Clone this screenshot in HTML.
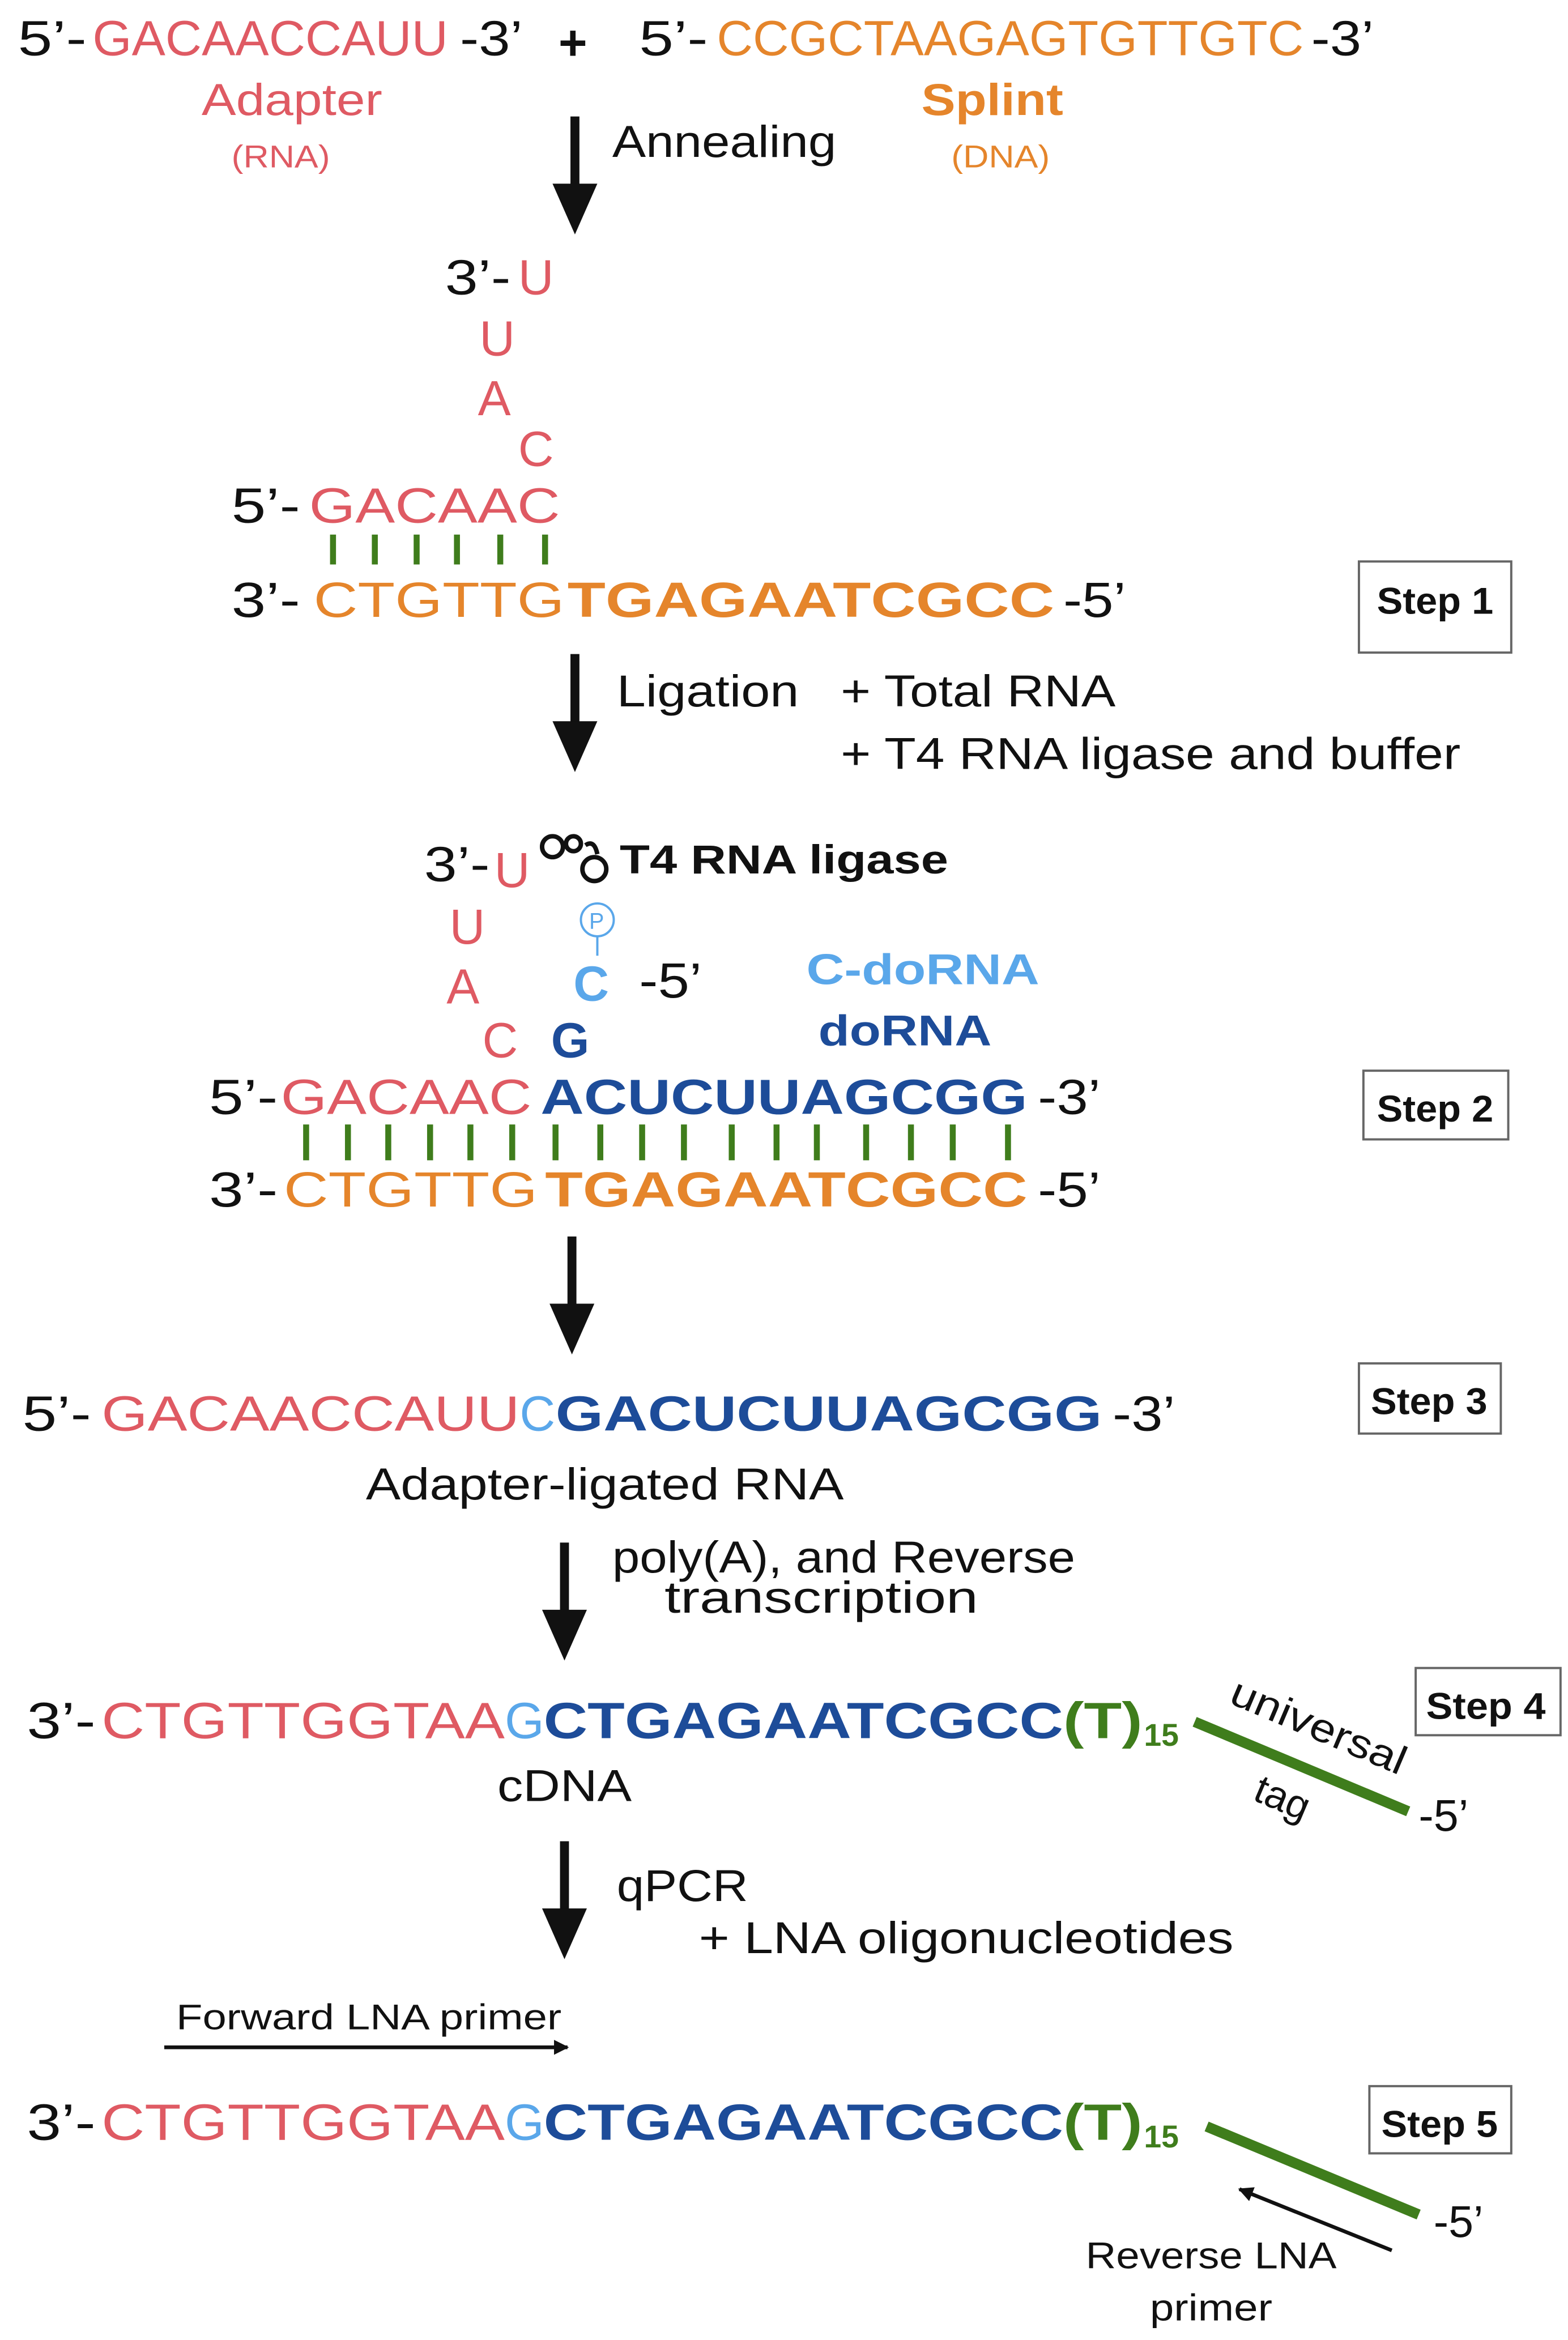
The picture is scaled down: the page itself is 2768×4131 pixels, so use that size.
<!DOCTYPE html>
<html><head><meta charset="utf-8"><style>
html,body{margin:0;padding:0;background:#fff;}
svg{display:block;}
text{font-family:"Liberation Sans",sans-serif;}
.k{fill:#111;}
.r{fill:#df5a63;}
.o{fill:#e5852b;}
.lb{fill:#5aa7ea;}
.db{fill:#1d4c99;}
.g{fill:#3f7d1c;}
.b{font-weight:bold;}
</style></head><body>
<svg width="2768" height="4131" viewBox="0 0 1050 1567" preserveAspectRatio="none" xmlns="http://www.w3.org/2000/svg">
<defs>
<marker id="ah" markerWidth="10" markerHeight="10" refX="9" refY="5" orient="auto" markerUnits="userSpaceOnUse"><path d="M0,0 L10,5 L0,10 z" fill="#111"/></marker>
</defs>
<g font-size="33">
<text x="12" y="37" class="k" textLength="46" lengthAdjust="spacingAndGlyphs">5’-</text>
<text x="62" y="37" class="r" textLength="238" lengthAdjust="spacingAndGlyphs">GACAACCAUU</text>
<text x="308" y="37" class="k" textLength="42" lengthAdjust="spacingAndGlyphs">-3’</text>
<text x="374" y="40" class="k b">+</text>
<text x="428" y="37" class="k" textLength="46" lengthAdjust="spacingAndGlyphs">5’-</text>
<text x="480" y="37" class="o" textLength="393" lengthAdjust="spacingAndGlyphs">CCGCTAAGAGTGTTGTC</text>
<text x="878" y="37" class="k" textLength="42" lengthAdjust="spacingAndGlyphs">-3’</text>
</g>
<text x="135" y="77" font-size="30" class="r" textLength="121" lengthAdjust="spacingAndGlyphs">Adapter</text>
<text x="155" y="112" font-size="21" class="r" textLength="66" lengthAdjust="spacingAndGlyphs">(RNA)</text>
<text x="617" y="77" font-size="30" class="o b" textLength="95" lengthAdjust="spacingAndGlyphs">Splint</text>
<text x="637" y="112" font-size="21" class="o" textLength="66" lengthAdjust="spacingAndGlyphs">(DNA)</text>

<g stroke="#111" stroke-width="6">
<line x1="385" y1="78" x2="385" y2="125"/>
<line x1="385" y1="438" x2="385" y2="485"/>
<line x1="383" y1="828" x2="383" y2="875"/>
<line x1="378" y1="1033" x2="378" y2="1080"/>
<line x1="378" y1="1233" x2="378" y2="1280"/>
</g>
<g fill="#111">
<path d="M370,123 L400,123 L385,157 z"/>
<path d="M370,483 L400,483 L385,517 z"/>
<path d="M368,873 L398,873 L383,907 z"/>
<path d="M363,1078 L393,1078 L378,1112 z"/>
<path d="M363,1278 L393,1278 L378,1312 z"/>
</g>
<text x="410" y="105" font-size="30" class="k" textLength="150" lengthAdjust="spacingAndGlyphs">Annealing</text>

<g font-size="33">
<text x="298" y="197" class="k" textLength="44" lengthAdjust="spacingAndGlyphs">3’-</text>
<text x="347" y="197" class="r">U</text>
<text x="321" y="238" class="r">U</text>
<text x="320" y="278" class="r">A</text>
<text x="347" y="312" class="r">C</text>
<text x="155" y="350" class="k" textLength="46" lengthAdjust="spacingAndGlyphs">5’-</text>
<text x="207" y="350" class="r" textLength="168" lengthAdjust="spacingAndGlyphs">GACAAC</text>
<text x="155" y="413" class="k" textLength="46" lengthAdjust="spacingAndGlyphs">3’-</text>
<text x="210" y="413" class="o" textLength="168" lengthAdjust="spacingAndGlyphs">CTGTTG</text>
<text x="380" y="413" class="o b" textLength="326" lengthAdjust="spacingAndGlyphs">TGAGAATCGCC</text>
<text x="712" y="413" class="k" textLength="42" lengthAdjust="spacingAndGlyphs">-5’</text>
</g>
<g stroke="#3f7d1c" stroke-width="4">
<line x1="223" y1="358" x2="223" y2="378"/><line x1="251" y1="358" x2="251" y2="378"/>
<line x1="279" y1="358" x2="279" y2="378"/><line x1="306" y1="358" x2="306" y2="378"/>
<line x1="335" y1="358" x2="335" y2="378"/><line x1="365" y1="358" x2="365" y2="378"/>
</g>
<rect x="910" y="376" width="102" height="61" fill="none" stroke="#666" stroke-width="1.5"/>
<text x="922" y="411" font-size="25" class="k b" textLength="78" lengthAdjust="spacingAndGlyphs">Step 1</text>

<g font-size="30" class="k">
<text x="413" y="473" textLength="122" lengthAdjust="spacingAndGlyphs">Ligation</text>
<text x="563" y="473" textLength="184" lengthAdjust="spacingAndGlyphs">+ Total RNA</text>
<text x="563" y="515" textLength="415" lengthAdjust="spacingAndGlyphs">+ T4 RNA ligase and buffer</text>
</g>

<g font-size="33">
<text x="284" y="590" class="k" textLength="44" lengthAdjust="spacingAndGlyphs">3’-</text>
<text x="331" y="594" class="r">U</text>
<text x="301" y="632" class="r">U</text>
<text x="299" y="672" class="r">A</text>
<text x="323" y="708" class="r">C</text>
<text x="384" y="670" class="lb b">C</text>
<text x="428" y="668" class="k" textLength="42" lengthAdjust="spacingAndGlyphs">-5’</text>
<text x="369" y="708" class="db b">G</text>
<text x="140" y="746" class="k" textLength="46" lengthAdjust="spacingAndGlyphs">5’-</text>
<text x="188" y="746" class="r" textLength="168" lengthAdjust="spacingAndGlyphs">GACAAC</text>
<text x="362" y="746" class="db b" textLength="326" lengthAdjust="spacingAndGlyphs">ACUCUUAGCGG</text>
<text x="695" y="746" class="k" textLength="42" lengthAdjust="spacingAndGlyphs">-3’</text>
<text x="140" y="808" class="k" textLength="46" lengthAdjust="spacingAndGlyphs">3’-</text>
<text x="190" y="808" class="o" textLength="170" lengthAdjust="spacingAndGlyphs">CTGTTG</text>
<text x="365" y="808" class="o b" textLength="323" lengthAdjust="spacingAndGlyphs">TGAGAATCGCC</text>
<text x="695" y="808" class="k" textLength="42" lengthAdjust="spacingAndGlyphs">-5’</text>
</g>
<g fill="none" stroke="#111" stroke-width="3">
<circle cx="370" cy="567" r="7"/>
<circle cx="384" cy="565" r="5"/>
<circle cx="398" cy="582" r="8"/>
<path d="M392,566 q6,-4 8,6"/>
</g>
<text x="415" y="585" font-size="27" class="k b" textLength="220" lengthAdjust="spacingAndGlyphs">T4 RNA ligase</text>
<circle cx="400" cy="616" r="11" fill="#fff" stroke="#5aa7ea" stroke-width="1.5"/>
<text x="394.5" y="622" font-size="15" class="lb">P</text>
<line x1="400" y1="627" x2="400" y2="640" stroke="#5aa7ea" stroke-width="1.5"/>
<text x="540" y="659" font-size="29" class="lb b" textLength="156" lengthAdjust="spacingAndGlyphs">C-doRNA</text>
<text x="548" y="700" font-size="29" class="db b" textLength="116" lengthAdjust="spacingAndGlyphs">doRNA</text>
<g stroke="#3f7d1c" stroke-width="4">
<line x1="205" y1="753" x2="205" y2="777"/><line x1="233" y1="753" x2="233" y2="777"/>
<line x1="260" y1="753" x2="260" y2="777"/><line x1="288" y1="753" x2="288" y2="777"/>
<line x1="315" y1="753" x2="315" y2="777"/><line x1="343" y1="753" x2="343" y2="777"/>
<line x1="372" y1="753" x2="372" y2="777"/><line x1="402" y1="753" x2="402" y2="777"/>
<line x1="430" y1="753" x2="430" y2="777"/><line x1="458" y1="753" x2="458" y2="777"/>
<line x1="490" y1="753" x2="490" y2="777"/><line x1="520" y1="753" x2="520" y2="777"/>
<line x1="547" y1="753" x2="547" y2="777"/><line x1="580" y1="753" x2="580" y2="777"/>
<line x1="610" y1="753" x2="610" y2="777"/><line x1="638" y1="753" x2="638" y2="777"/>
<line x1="675" y1="753" x2="675" y2="777"/>
</g>
<rect x="913" y="717" width="97" height="46" fill="none" stroke="#666" stroke-width="1.5"/>
<text x="922" y="751" font-size="25" class="k b" textLength="78" lengthAdjust="spacingAndGlyphs">Step 2</text>

<g font-size="33">
<text x="15" y="958" class="k" textLength="46" lengthAdjust="spacingAndGlyphs">5’-</text>
<text x="68" y="958" class="r" textLength="280" lengthAdjust="spacingAndGlyphs">GACAACCAUU</text>
<text x="348" y="958" class="lb">C</text>
<text x="372" y="958" class="db b" textLength="366" lengthAdjust="spacingAndGlyphs">GACUCUUAGCGG</text>
<text x="745" y="958" class="k" textLength="42" lengthAdjust="spacingAndGlyphs">-3’</text>
</g>
<rect x="910" y="913" width="95" height="47" fill="none" stroke="#666" stroke-width="1.5"/>
<text x="918" y="947" font-size="25" class="k b" textLength="78" lengthAdjust="spacingAndGlyphs">Step 3</text>
<text x="245" y="1004" font-size="30" class="k" textLength="320" lengthAdjust="spacingAndGlyphs">Adapter-ligated RNA</text>
<text x="410" y="1053" font-size="30" class="k" textLength="310" lengthAdjust="spacingAndGlyphs">poly(A), and Reverse</text>
<text x="445" y="1080" font-size="30" class="k" textLength="210" lengthAdjust="spacingAndGlyphs">transcription</text>

<g font-size="34">
<text x="18" y="1164" class="k" textLength="46" lengthAdjust="spacingAndGlyphs">3’-</text>
<text x="68" y="1164" class="r" textLength="270" lengthAdjust="spacingAndGlyphs">CTGTTGGTAA</text>
<text x="338" y="1164" class="lb">G</text>
<text x="364" y="1164" class="db b" textLength="348" lengthAdjust="spacingAndGlyphs">CTGAGAATCGCC</text>
<text x="712" y="1164" class="g b" textLength="53" lengthAdjust="spacingAndGlyphs">(T)</text>
<text x="766" y="1169" font-size="21" class="g b">15</text>
</g>
<line x1="800" y1="1153" x2="943" y2="1213" stroke="#3f7d1c" stroke-width="7"/>
<text transform="translate(822,1140) rotate(23)" font-size="27" class="k" textLength="125" lengthAdjust="spacingAndGlyphs">universal</text>
<text transform="translate(838,1205) rotate(23)" font-size="27" class="k">tag</text>
<text x="950" y="1226" font-size="30" class="k">-5’</text>
<rect x="948" y="1117" width="97" height="45" fill="none" stroke="#666" stroke-width="1.5"/>
<text x="955" y="1151" font-size="25" class="k b" textLength="80" lengthAdjust="spacingAndGlyphs">Step 4</text>
<text x="333" y="1206" font-size="30" class="k" textLength="90" lengthAdjust="spacingAndGlyphs">cDNA</text>
<text x="413" y="1273" font-size="30" class="k" textLength="88" lengthAdjust="spacingAndGlyphs">qPCR</text>
<text x="468" y="1308" font-size="30" class="k" textLength="358" lengthAdjust="spacingAndGlyphs">+ LNA oligonucleotides</text>

<text x="118" y="1359" font-size="24" class="k" textLength="258" lengthAdjust="spacingAndGlyphs">Forward LNA primer</text>
<line x1="110" y1="1371" x2="380" y2="1371" stroke="#111" stroke-width="2.5" marker-end="url(#ah)"/>
<g font-size="34">
<text x="18" y="1433" class="k" textLength="46" lengthAdjust="spacingAndGlyphs">3’-</text>
<text x="68" y="1433" class="r" textLength="270" lengthAdjust="spacingAndGlyphs">CTGTTGGTAA</text>
<text x="338" y="1433" class="lb">G</text>
<text x="364" y="1433" class="db b" textLength="348" lengthAdjust="spacingAndGlyphs">CTGAGAATCGCC</text>
<text x="712" y="1433" class="g b" textLength="53" lengthAdjust="spacingAndGlyphs">(T)</text>
<text x="766" y="1438" font-size="21" class="g b">15</text>
</g>
<line x1="808" y1="1424" x2="950" y2="1483" stroke="#3f7d1c" stroke-width="7"/>
<text x="960" y="1498" font-size="30" class="k">-5’</text>
<rect x="917" y="1397" width="95" height="45" fill="none" stroke="#666" stroke-width="1.5"/>
<text x="925" y="1431" font-size="25" class="k b" textLength="78" lengthAdjust="spacingAndGlyphs">Step 5</text>
<line x1="932" y1="1507" x2="830" y2="1466" stroke="#111" stroke-width="2.5" marker-end="url(#ah)"/>
<text x="727" y="1519" font-size="25" class="k" textLength="168" lengthAdjust="spacingAndGlyphs">Reverse LNA</text>
<text x="770" y="1554" font-size="25" class="k" textLength="82" lengthAdjust="spacingAndGlyphs">primer</text>
</svg>
</body></html>
